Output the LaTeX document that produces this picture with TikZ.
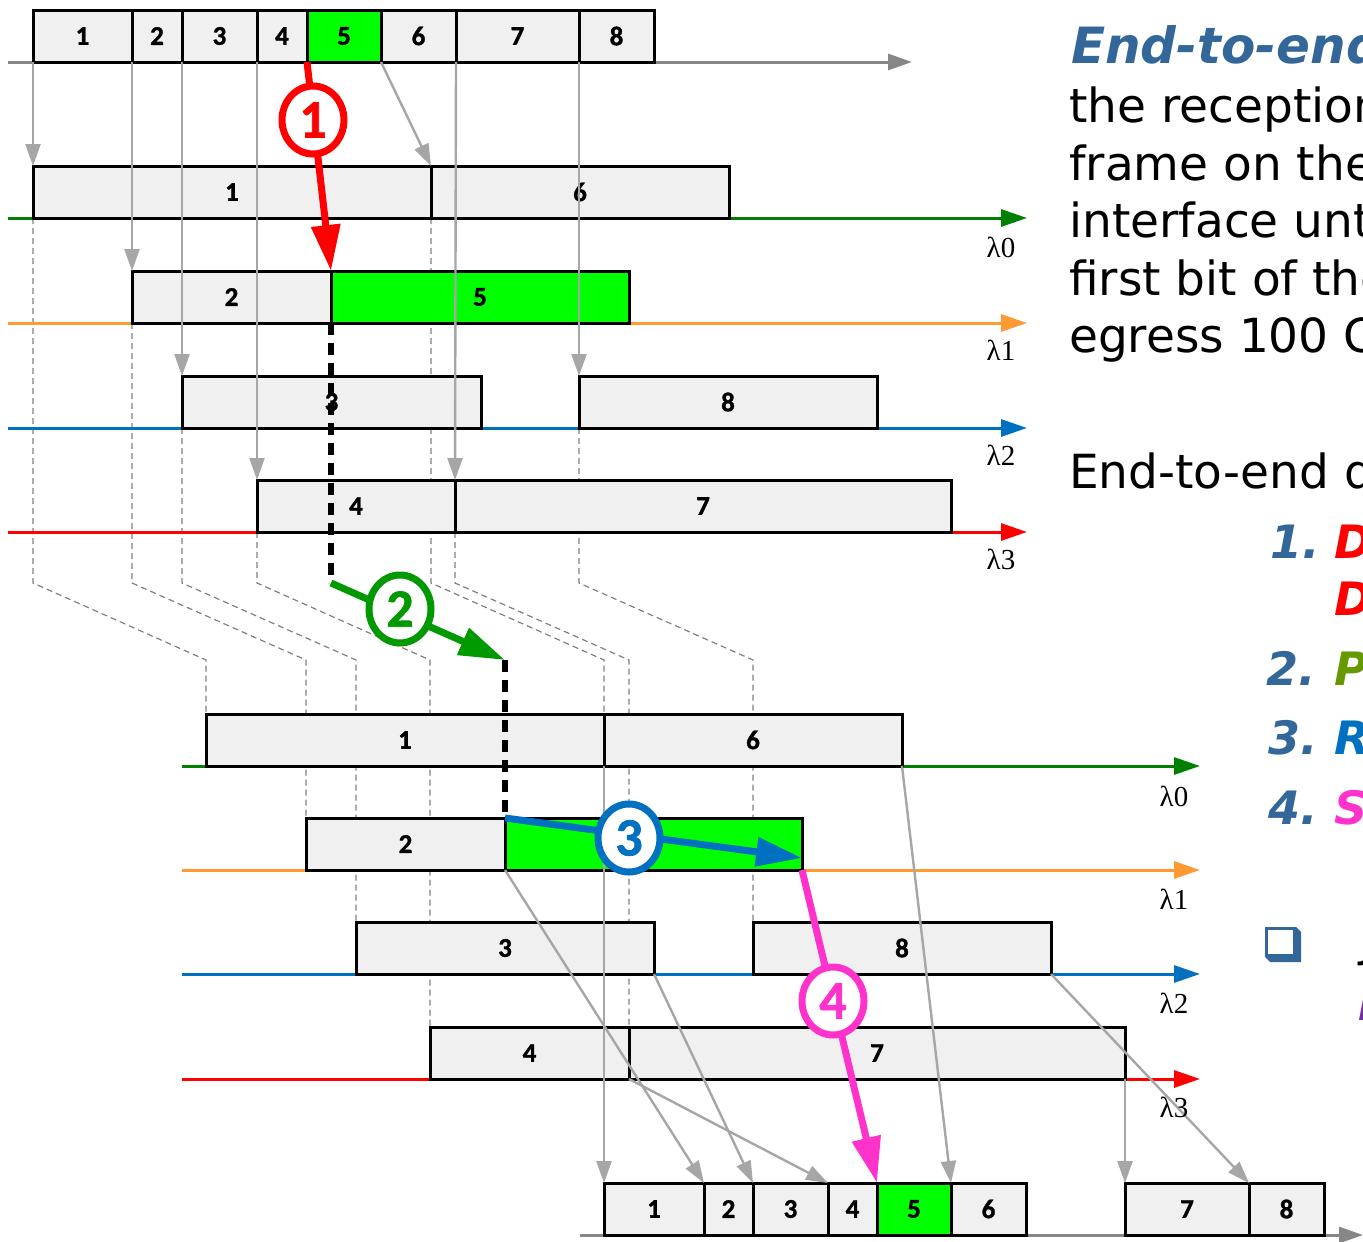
\documentclass[tikz,border=0pt]{standalone}
\usepackage{fontspec}
\usetikzlibrary{arrows.meta,calc,shapes.geometric,backgrounds}
\newfontfamily\bodyfont{DejaVu Sans}
\newfontfamily\framefont[BoldFeatures={FakeBold=1.2}]{Carlito}
\newfontfamily\lamfont{Liberation Serif}
\definecolor{boxgray}{HTML}{F0F0F0}
\definecolor{pktgreen}{HTML}{00FF00}
\definecolor{lamgreen}{HTML}{008000}
\definecolor{lamorange}{HTML}{FF9933}
\definecolor{lamblue}{HTML}{0070C0}
\definecolor{lamred}{HTML}{FF0000}
\definecolor{linkgray}{HTML}{A6A6A6}
\definecolor{axisgray}{HTML}{878787}
\definecolor{guidegray}{HTML}{808080}
\definecolor{stepgreen}{HTML}{009900}
\definecolor{steppink}{HTML}{FF33CC}
\definecolor{titleblue}{HTML}{336699}
\definecolor{itemolive}{HTML}{669900}
\definecolor{itempurple}{HTML}{7030A0}
\begin{document}
\begin{tikzpicture}[x=1pt,y=-1pt,
  frm/.style={draw=black,line width=3pt,fill=boxgray,inner sep=0pt,outer sep=0pt,
    minimum height=52pt,anchor=north west,font=\framefont\bfseries\fontsize{27}{27}\selectfont},
  hot/.style={frm,fill=pktgreen},
  lane/.style={line width=3pt,-{Triangle[length=26pt,width=17pt]}},
  axis/.style={draw=axisgray,line width=3pt,-{Triangle[length=24pt,width=16pt]}},
  hop/.style={draw=linkgray,line width=2.4pt,-{Triangle[length=22pt,width=15pt]}},
  guide/.style={draw=guidegray,line width=1.2pt,dash pattern=on 6pt off 4pt},
  via5/.style={draw=black,line width=6pt,dash pattern=on 12pt off 8pt},
  bigarrow/.style={line width=7pt,-{Triangle[length=46pt,width=28pt]}},
  stepmark/.style={ellipse,fill=white,line width=7pt,inner sep=0pt,
    minimum width=62pt,minimum height=68pt,font=\framefont\bfseries\fontsize{54}{54}\selectfont},
  lamlbl/.style={anchor=base,inner sep=0pt,font=\lamfont\fontsize{29}{29}\selectfont},
  body/.style={anchor=base west,inner sep=0pt,font=\bodyfont\fontsize{47}{47}\selectfont},
  emph/.style={anchor=base west,inner sep=0pt,font=\bodyfont\bfseries\itshape\fontsize{46}{46}\selectfont},
  headline/.style={emph,font=\bodyfont\bfseries\itshape\fontsize{50}{50}\selectfont}
]
\useasboundingbox (0,0) rectangle (1363,1242);
\clip (0,0) rectangle (1363,1242);

% knee heights of the re-timing guides
\coordinate (kneeA) at (0,583);
\coordinate (kneeB) at (0,660);

% time axes
\coordinate (inS) at (8,62);     \coordinate (inE) at (912,62);
\coordinate (outS) at (580,1235); \coordinate (outE) at (1363,1235);
\draw[axis] (inS) -- (inE);
\draw[axis] (outS) -- (outE);

% wavelength lanes, ingress side
\coordinate (u0s) at (8,218);  \coordinate (u0e) at (1027,218);
\coordinate (u1s) at (8,323);  \coordinate (u1e) at (1027,323);
\coordinate (u2s) at (8,428);  \coordinate (u2e) at (1027,428);
\coordinate (u3s) at (8,532);  \coordinate (u3e) at (1027,532);
\draw[lane,lamgreen]  (u0s) -- (u0e);
\draw[lane,lamorange] (u1s) -- (u1e);
\draw[lane,lamblue]   (u2s) -- (u2e);
\draw[lane,lamred]    (u3s) -- (u3e);

% wavelength lanes, egress side
\coordinate (v0s) at (182,766);  \coordinate (v0e) at (1200,766);
\coordinate (v1s) at (182,870);  \coordinate (v1e) at (1200,870);
\coordinate (v2s) at (182,974);  \coordinate (v2e) at (1200,974);
\coordinate (v3s) at (182,1079); \coordinate (v3e) at (1200,1079);
\draw[lane,lamgreen]  (v0s) -- (v0e);
\draw[lane,lamorange] (v1s) -- (v1e);
\draw[lane,lamblue]   (v2s) -- (v2e);
\draw[lane,lamred]    (v3s) -- (v3e);

% ingress frame sequence
\node[frm,minimum width=99pt]  (t1) at (33,10)  {1};
\node[frm,minimum width=50pt]  (t2) at (132,10) {2};
\node[frm,minimum width=75pt]  (t3) at (182,10) {3};
\node[frm,minimum width=50pt]  (t4) at (257,10) {4};
\node[hot,minimum width=74pt]  (t5) at (307,10) {5};
\node[frm,minimum width=75pt]  (t6) at (381,10) {6};
\node[frm,minimum width=123pt] (t7) at (456,10) {7};
\node[frm,minimum width=75pt]  (t8) at (579,10) {8};

% frames on the ingress lanes
\node[frm,minimum width=398pt] (a1) at (33,166)  {1};
\node[frm,minimum width=298pt] (a6) at (431,166) {6};
\node[frm,minimum width=199pt] (a2) at (132,271) {2};
\node[hot,minimum width=298pt] (a5) at (331,271) {5};
\node[frm,minimum width=299pt] (a3) at (182,376) {3};
\node[frm,minimum width=298pt] (a8) at (579,376) {8};
\node[frm,minimum width=198pt] (a4) at (257,480) {4};
\node[frm,minimum width=496pt] (a7) at (455,480) {7};

% frames on the egress lanes
\node[frm,minimum width=398pt] (b1) at (206,714)  {1};
\node[frm,minimum width=298pt] (b6) at (604,714)  {6};
\node[frm,minimum width=199pt] (b2) at (306,818)  {2};
\node[hot,minimum width=297pt] (b5) at (505,818)  {5};
\node[frm,minimum width=298pt] (b3) at (356,922)  {3};
\node[frm,minimum width=298pt] (b8) at (753,922)  {8};
\node[frm,minimum width=199pt] (b4) at (430,1027) {4};
\node[frm,minimum width=496pt] (b7) at (629,1027) {7};

% egress frame sequence
\node[frm,minimum width=100pt] (c1) at (604,1183)  {1};
\node[frm,minimum width=49pt]  (c2) at (704,1183)  {2};
\node[frm,minimum width=75pt]  (c3) at (753,1183)  {3};
\node[frm,minimum width=49pt]  (c4) at (828,1183)  {4};
\node[hot,minimum width=74pt]  (c5) at (877,1183)  {5};
\node[frm,minimum width=75pt]  (c6) at (951,1183)  {6};
\node[frm,minimum width=124pt] (c7) at (1125,1183) {7};
\node[frm,minimum width=75pt]  (c8) at (1249,1183) {8};

% re-timing guides from ingress lanes to egress lanes
\begin{pgfonlayer}{background}
\foreach \s/\d in {a1/b1,a6/b6,a2/b2,a3/b3,a8/b8,a4/b4,a7/b7}
  \draw[guide] (\s.south west) -- (\s.south west |- kneeA)
               -- (\d.north west |- kneeB) -- (\d.north west);
\end{pgfonlayer}

% distribution onto the lanes
\foreach \s/\d in {t1/a1,t2/a2,t3/a3,t4/a4,t6/a6,t7/a7,t8/a8}
  \draw[hop] (\s.south west) -- (\d.north west);

% collection from the lanes
\foreach \s/\d in {b1/c1,b2/c2,b3/c3,b4/c4,b6/c6,b7/c7,b8/c8}
  \draw[hop] (\s.south east) -- (\d.north west);

% path of frame 5
\draw[bigarrow,red] (t5.south west) -- (a5.north west);
\draw[via5] (a5.south west) -- (a5.south west |- kneeA);
\draw[bigarrow,stepgreen] (a5.south west |- kneeA) -- (b5.north west |- kneeB);
\draw[via5] (b5.north west |- kneeB) -- (b5.north west);
\draw[bigarrow,lamblue] (b5.north west) -- ($(b5.south east)+(0,-12)$);
\draw[bigarrow,steppink] (b5.south east) -- (c5.north west);

\node[stepmark,draw=red,text=red]             (m1) at (313,120)  {1};
\node[stepmark,draw=stepgreen,text=stepgreen] (m2) at (400,609)  {2};
\node[stepmark,draw=lamblue,text=lamblue]     (m3) at (629,838)  {3};
\node[stepmark,draw=steppink,text=steppink]   (m4) at (833,1001) {4};

% lane names
\node[lamlbl] (lu0) at (1001,257)  {λ0};
\node[lamlbl] (lu1) at (1001,360)  {λ1};
\node[lamlbl] (lu2) at (1001,465)  {λ2};
\node[lamlbl] (lu3) at (1001,569)  {λ3};
\node[lamlbl] (lv0) at (1174,806)  {λ0};
\node[lamlbl] (lv1) at (1174,909)  {λ1};
\node[lamlbl] (lv2) at (1174,1013) {λ2};
\node[lamlbl] (lv3) at (1174,1117) {λ3};

% explanatory text
\node[headline,text=titleblue] (hd) at (1071,63) {End-to-end delay};
\node[body] (r2) at (1069,122) {the reception};
\node[body] (r3) at (1069,180) {frame on the};
\node[body] (r4) at (1069,237) {interface until};
\node[body] (r5) at (1069,295) {first bit of the};
\node[body] (r6) at (1069,352) {egress 100 GbE};
\node[body] (r7) at (1069,488) {End-to-end delay};

\node[emph,text=titleblue] (n1) at (1270,558) {1.};
\node[emph,text=red]       (i1) at (1334,558) {D};
\node[emph,text=red]       (i1b) at (1334,615) {D};
\node[emph,text=titleblue] (n2) at (1266,685) {2.};
\node[emph,text=itemolive] (i2) at (1334,685) {P};
\node[emph,text=titleblue] (n3) at (1268,754) {3.};
\node[emph,text=lamblue]   (i3) at (1334,754) {R};
\node[emph,text=titleblue] (n4) at (1268,824) {4.};
\node[emph,text=steppink]  (i4) at (1334,824) {S};

% square bullet
\fill[titleblue] (1265,927) -- (1296,927) -- (1301,932) -- (1301,962)
                 -- (1270,962) -- (1265,957) -- cycle;
\fill[white] (1268,930) rectangle (1293,954);
\node[body] (r8) at (1360,956) {J};
\node[emph,text=itempurple] (r9) at (1358,1020) {I};
\end{tikzpicture}
\end{document}
